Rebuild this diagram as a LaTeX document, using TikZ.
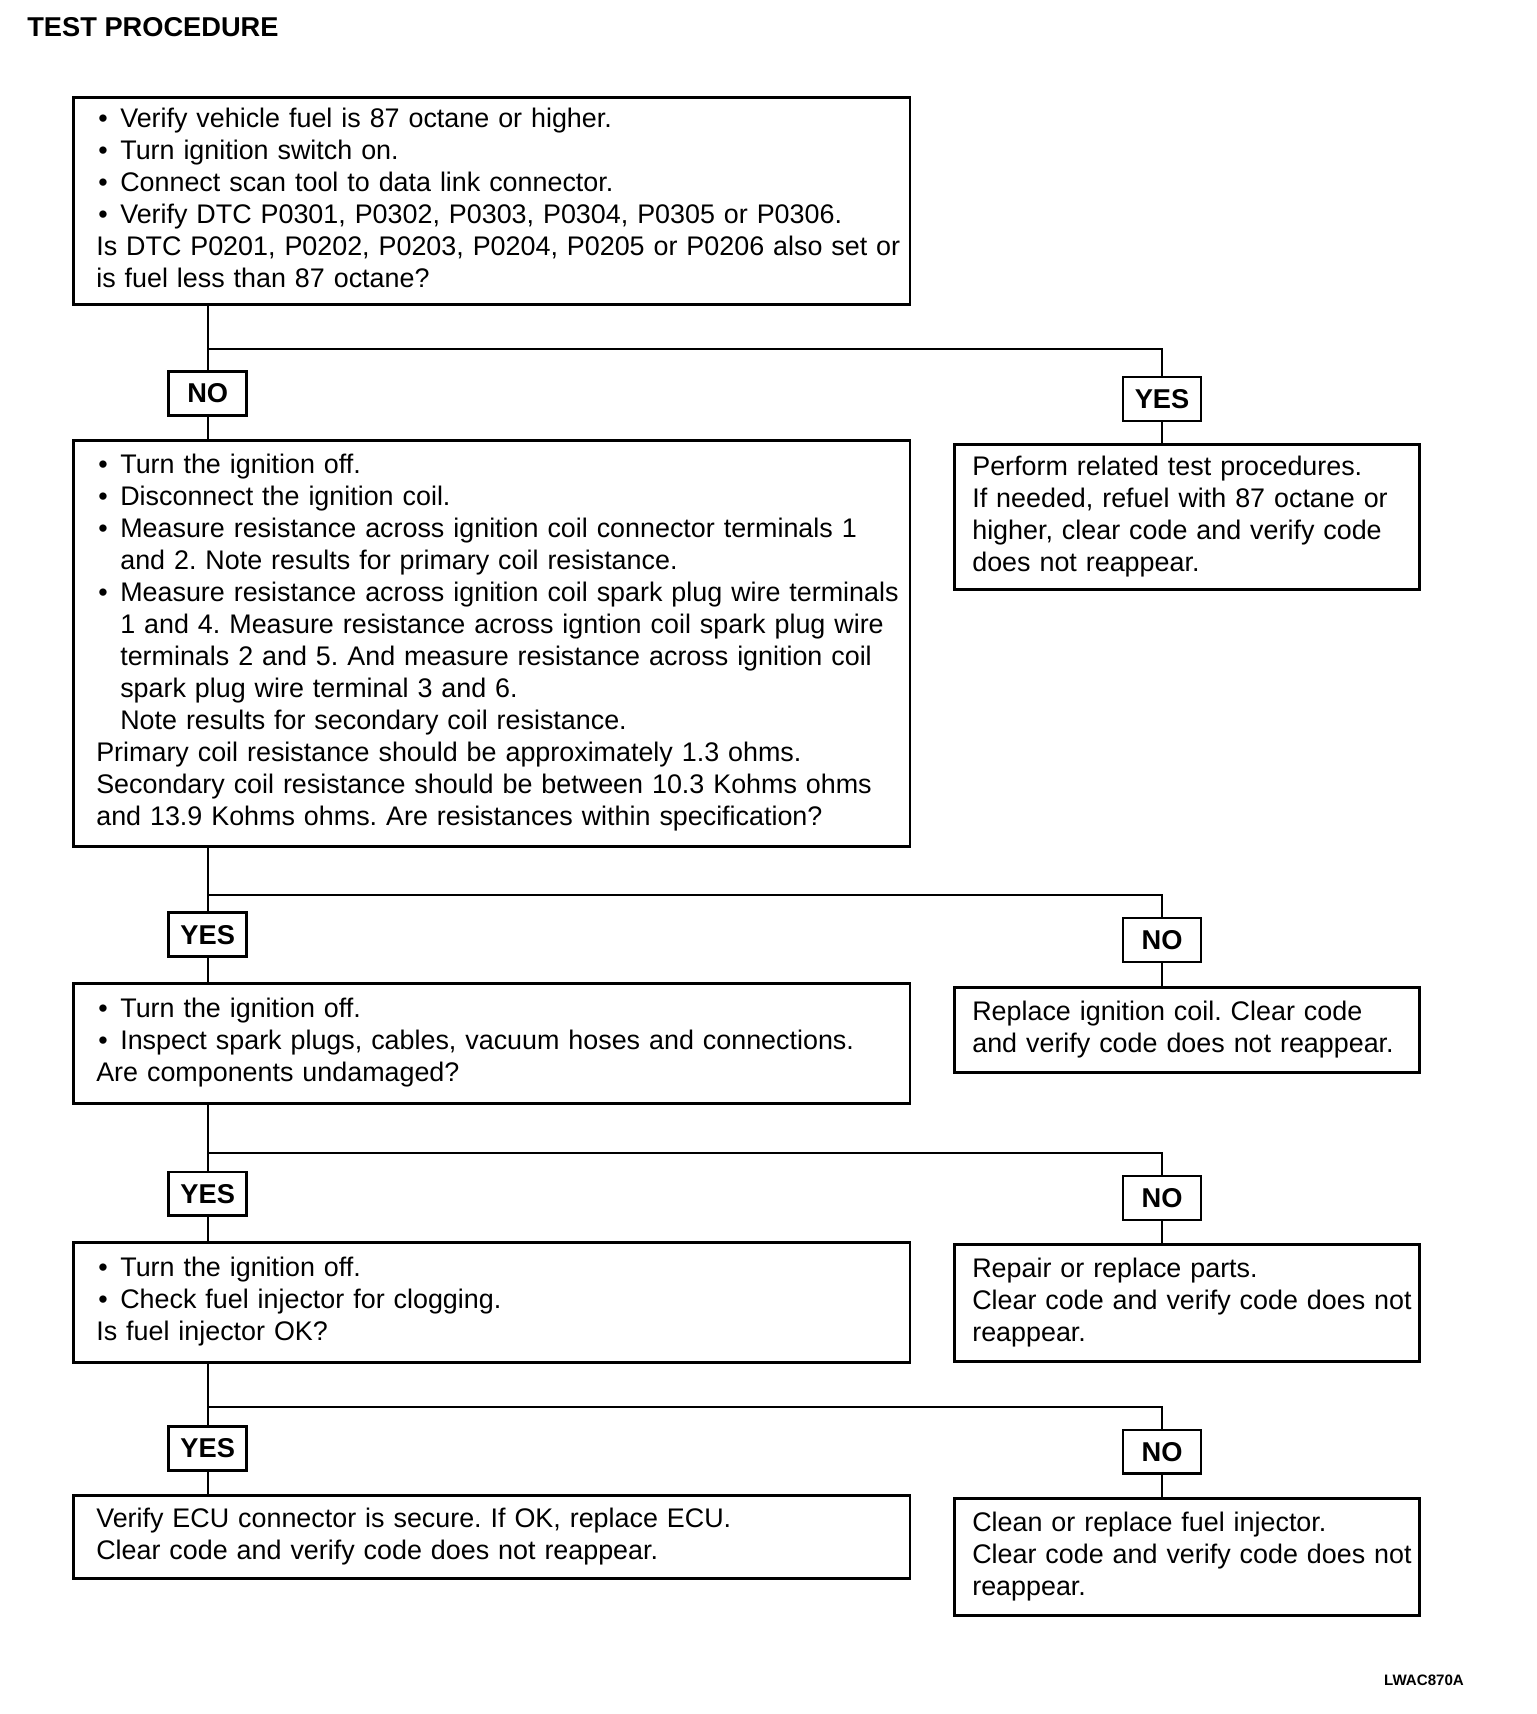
\documentclass[tikz,border=0pt]{standalone}
\usepackage{fontspec}
\setmainfont{Liberation Sans}
\usepackage{tikz}
\usetikzlibrary{positioning}
\frenchspacing
\newcommand{\bl}{\makebox[0.48cm][l]{\hspace{0.04cm}\textbullet}}
\newcommand{\ind}{\hspace*{0.48cm}}
\newcommand{\boxlines}[1]{\begin{tabular}{@{}l@{}}#1\end{tabular}}

\begin{document}
\begin{tikzpicture}[x=0.02cm, y=-0.02cm,
  box/.style={draw, line width=1.5pt, anchor=north west, inner xsep=0.46cm, inner ysep=0pt, text width=15.82cm, align=left, font=\fontsize{15.3}{18.2}\selectfont},
  rbox/.style={box, inner xsep=0.36cm, text width=8.58cm},
  tag/.style={draw, line width=1.5pt, minimum width=1.56cm, minimum height=0.88cm, inner sep=0pt, font=\bfseries\fontsize{15.5}{18}\selectfont},
  wire/.style={line width=1.3pt}]
\useasboundingbox (0,0) rectangle (1536,1714);
\node[anchor=west, inner sep=0pt, font=\bfseries\fontsize{15.5}{18}\selectfont] (title) at (27,27) {TEST PROCEDURE};
% first check
\node[box, minimum height=4.14cm] (q1) at (72,96) {\boxlines{%
\bl Verify vehicle fuel is 87 octane or higher.\\
\bl Turn ignition switch on.\\
\bl Connect scan tool to data link connector.\\
\bl Verify DTC P0301, P0302, P0303, P0304, P0305 or P0306.\\
Is DTC P0201, P0202, P0203, P0204, P0205 or P0206 also set or\\
is fuel less than 87 octane?}};
\node[tag] (n1) at (207.7,393.6) {NO};
\node[tag] (y1) at (1162,399) {YES};
\node[box, minimum height=8.12cm] (q2) at (72,439) {\boxlines{%
\bl Turn the ignition off.\\
\bl Disconnect the ignition coil.\\
\bl Measure resistance across ignition coil connector terminals 1\\
\ind and 2. Note results for primary coil resistance.\\
\bl Measure resistance across ignition coil spark plug wire terminals\\
\ind 1 and 4. Measure resistance across igntion coil spark plug wire\\
\ind terminals 2 and 5. And measure resistance across ignition coil\\
\ind spark plug wire terminal 3 and 6.\\
\ind Note results for secondary coil resistance.\\
Primary coil resistance should be approximately 1.3 ohms.\\
Secondary coil resistance should be between 10.3 Kohms ohms\\
and 13.9 Kohms ohms. Are resistances within specification?}};
\node[rbox, minimum height=2.9cm] (a1) at (953,443) {\boxlines{%
Perform related test procedures.\\
If needed, refuel with 87 octane or\\
higher, clear code and verify code\\
does not reappear.}};
\coordinate (s1) at (0,348.7);
\draw[wire] (n1 |- q1.south) -- (n1); \draw[wire] (n1 |- s1) -| (y1);
\draw[wire] (n1) -- (n1 |- q2.north); \draw[wire] (y1) -- (y1 |- a1.north);
% coil resistance
\node[tag] (y2) at (207.7,934.7) {YES};
\node[tag] (n2) at (1162,940) {NO};
\node[box, minimum height=2.4cm] (q3) at (72,982) {\boxlines{%
\bl Turn the ignition off.\\
\bl Inspect spark plugs, cables, vacuum hoses and connections.\\
Are components undamaged?}};
\node[rbox, minimum height=1.7cm] (b1) at (953,986) {\boxlines{%
Replace ignition coil. Clear code\\
and verify code does not reappear.}};
\coordinate (s2) at (0,895.3);
\draw[wire] (y2 |- q2.south) -- (y2); \draw[wire] (y2 |- s2) -| (n2);
\draw[wire] (y2) -- (y2 |- q3.north); \draw[wire] (n2) -- (n2 |- b1.north);
% components
\node[tag] (y3) at (207.7,1193.8) {YES};
\node[tag] (n3) at (1162,1198) {NO};
\node[box, minimum height=2.4cm] (q4) at (72,1241) {\boxlines{%
\bl Turn the ignition off.\\
\bl Check fuel injector for clogging.\\
Is fuel injector OK?}};
\node[rbox, minimum height=2.34cm] (c1) at (953,1243) {\boxlines{%
Repair or replace parts.\\
Clear code and verify code does not\\
reappear.}};
\coordinate (s3) at (0,1153.3);
\draw[wire] (y3 |- q3.south) -- (y3); \draw[wire] (y3 |- s3) -| (n3);
\draw[wire] (y3) -- (y3 |- q4.north); \draw[wire] (n3) -- (n3 |- c1.north);
% injector
\node[tag] (y4) at (207.7,1448.5) {YES};
\node[tag] (n4) at (1162,1451.8) {NO};
\node[box, minimum height=1.66cm] (q5) at (72,1494) {\boxlines{%
Verify ECU connector is secure. If OK, replace ECU.\\
Clear code and verify code does not reappear.}};
\node[rbox, minimum height=2.34cm] (d1) at (953,1497) {\boxlines{%
Clean or replace fuel injector.\\
Clear code and verify code does not\\
reappear.}};
\coordinate (s4) at (0,1407);
\draw[wire] (y4 |- q4.south) -- (y4); \draw[wire] (y4 |- s4) -| (n4);
\draw[wire] (y4) -- (y4 |- q5.north); \draw[wire] (n4) -- (n4 |- d1.north);
\node[font=\bfseries\fontsize{8.6}{10}\selectfont] (code) at (1424,1680) {LWAC870A};
\end{tikzpicture}
\end{document}
